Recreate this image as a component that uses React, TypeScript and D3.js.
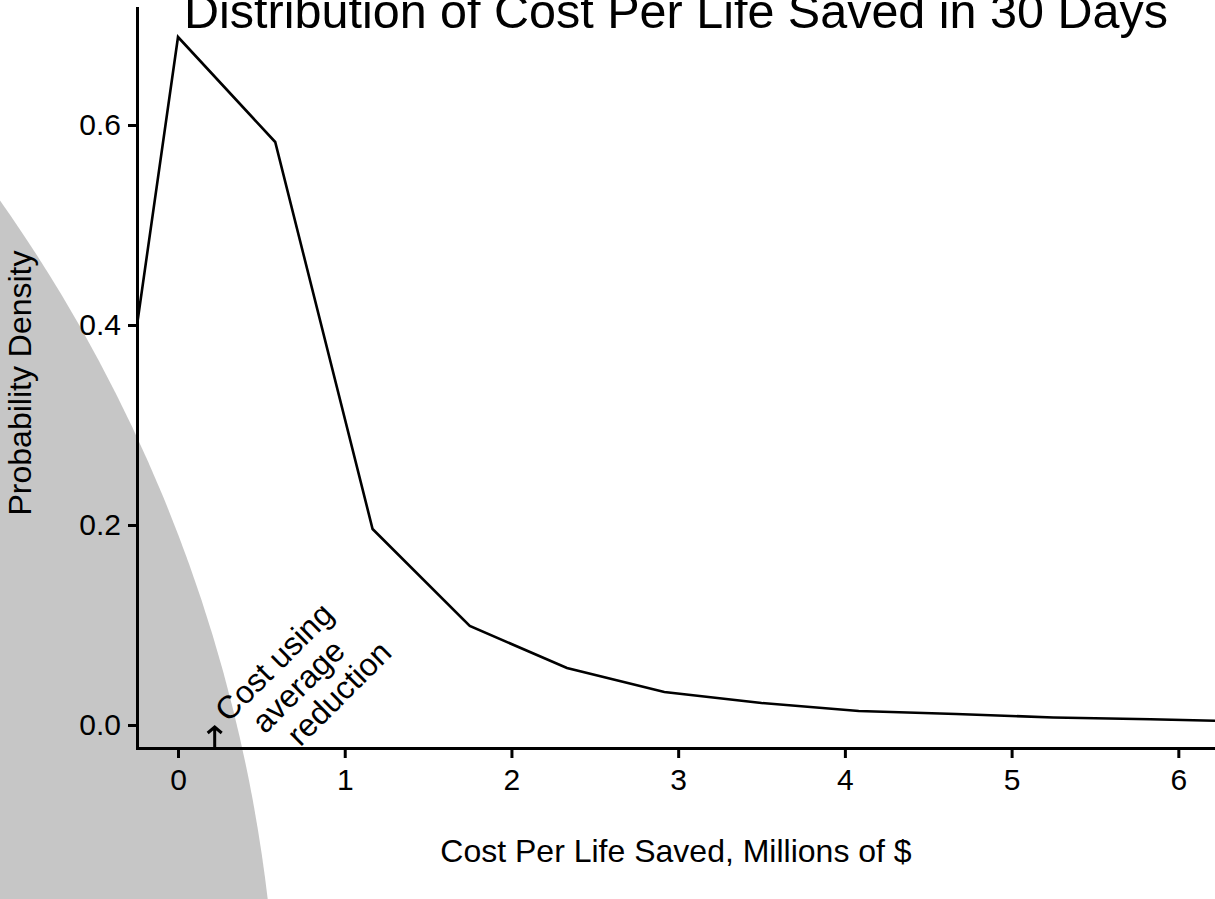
import React from "react";
import * as d3 from "d3";

// density curve, cost in millions of $
const costValues = [-0.583, 0, 0.583, 1.167, 1.75, 2.333, 2.917, 3.5, 4.083, 4.667, 5.25, 5.833, 6.417];
const densityValues = [0.005, 0.688, 0.583, 0.196, 0.099, 0.057, 0.033, 0.022, 0.014, 0.011, 0.0075, 0.0057, 0.0035];

const xTicks = [0, 1, 2, 3, 4, 5, 6];
const yTicks = [0, 0.2, 0.4, 0.6];

const averageCost = 0.22;
const noteLines = ["Cost using", "average", "reduction"];
const noteShift = [0, 0, 24];

// big grey disc behind the plot (data units)
const greyCenter = { x: -8.51, y: -0.351 };
const greyRadius = { x: 9.11, y: 1.518 };

const width = 1215;
const height = 899;
const margin = { top: 8, right: 0, bottom: 151, left: 137 };
const font = "'Liberation Sans', Arial, Helvetica, sans-serif";

export default function App() {
  const x = d3.scaleLinear().domain([-0.246, 6.22]).range([margin.left, width - margin.right]);
  const y = d3.scaleLinear().domain([-0.023, 0.717]).range([height - margin.bottom, margin.top]);

  const xAxisRef = React.useRef<SVGGElement>(null);
  const yAxisRef = React.useRef<SVGGElement>(null);

  React.useEffect(() => {
    const fmt = d3.format(".1f");
    const gx = d3.select(xAxisRef.current!);
    gx.call(d3.axisBottom(x).tickValues(xTicks).tickSize(10).tickSizeOuter(0).tickPadding(11).tickFormat(d3.format("d") as any));
    const gy = d3.select(yAxisRef.current!);
    gy.call(d3.axisLeft(y).tickValues(yTicks).tickSize(9).tickSizeOuter(0).tickPadding(7).tickFormat(fmt as any));
    [gx, gy].forEach((g) => {
      g.selectAll(".domain").attr("stroke-width", 3).attr("stroke-linecap", "square");
      g.selectAll(".tick line").attr("stroke-width", 3);
      g.selectAll(".tick text").attr("font-size", 30).attr("font-family", font).attr("fill", "#000");
    });
  }, []);

  const line = d3
    .line<number>()
    .x((_, i) => x(costValues[i]))
    .y((d) => y(d));

  const noteX = x(averageCost + 0.5);
  const noteY = y(0.039);

  return (
    <div style={{ position: "absolute", left: 0, top: 0 }}>
      <svg width={width} height={height} style={{ display: "block", background: "#fff" }}>
        <ellipse
          cx={x(greyCenter.x)}
          cy={y(greyCenter.y)}
          rx={x(greyRadius.x) - x(0)}
          ry={y(0) - y(greyRadius.y)}
          fill="#c6c6c6"
        />
        <defs>
          <clipPath id="plot">
            <rect x={margin.left} y={margin.top} width={width - margin.left - margin.right} height={height - margin.top - margin.bottom} />
          </clipPath>
        </defs>
        <path d={line(densityValues) || ""} fill="none" stroke="#000" strokeWidth={2.6} clipPath="url(#plot)" strokeLinejoin="miter" />
        <g ref={xAxisRef} transform={`translate(0,${height - margin.bottom})`} />
        <g ref={yAxisRef} transform={`translate(${margin.left},0)`} />

        {/* arrow for average reduction */}
        <path
          d={`M${x(averageCost)},${y.range()[0]}V${y(0) + 2}M${x(averageCost) - 7},${y(0) + 8}L${x(averageCost)},${y(0) + 2}L${x(averageCost) + 7},${y(0) + 8}`}
          fill="none"
          stroke="#000"
          strokeWidth={3}
        />
        <g transform={`translate(${noteX},${noteY}) rotate(-45)`}>
          {noteLines.map((t, i) => (
            <text
              key={t}
              x={noteShift[i]}
              y={(i - 1) * 34}
              textAnchor="middle"
              dominantBaseline="central"
              fontFamily={font}
              fontSize={32}
            >
              {t}
            </text>
          ))}
        </g>

        <text x={(margin.left + width) / 2} y={28} textAnchor="middle" fontFamily={font} fontSize={48.5}>
          Distribution of Cost Per Life Saved in 30 Days
        </text>
        <text x={(margin.left + width) / 2} y={862} textAnchor="middle" fontFamily={font} fontSize={32}>
          Cost Per Life Saved, Millions of $
        </text>
        <text
          transform={`translate(31,${y(0.342)}) rotate(-90)`}
          textAnchor="middle"
          fontFamily={font}
          fontSize={32}
        >
          Probability Density
        </text>
      </svg>
    </div>
  );
}
